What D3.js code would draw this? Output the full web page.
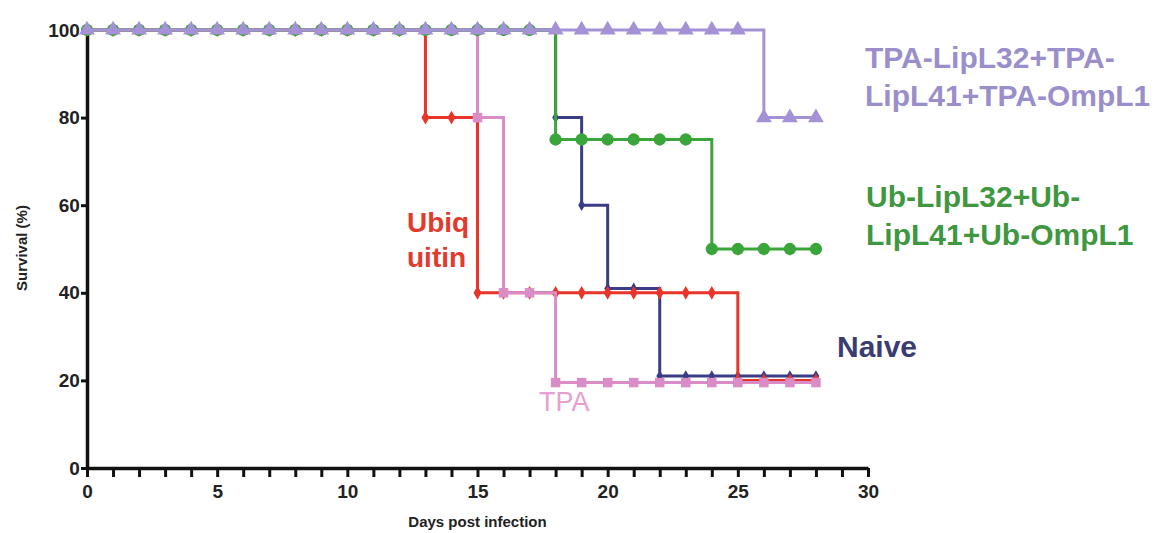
<!DOCTYPE html>
<html>
<head>
<meta charset="utf-8">
<script src="https://cdn.jsdelivr.net/npm/d3@7"></script>
<style>
    body { margin: 0; background: #fff; }
    svg { display: block; font-family: "Liberation Sans", Arial, sans-serif; }
</style>
</head>
<body>
<div id="chart"></div>
<script>
const days = [0, 1, 2, 3, 4, 5, 6, 7, 8, 9, 10, 11, 12, 13, 14, 15, 16, 17, 18, 19, 20, 21, 22, 23, 24, 25, 26, 27, 28];

const naive = [100, 100, 100, 100, 100, 100, 100, 100, 100, 100, 100, 100, 100, 100, 100, 100, 100, 100, 80, 60, 41, 41, 21, 21, 21, 21, 21, 21, 21];
const ubiquitin = [100, 100, 100, 100, 100, 100, 100, 100, 100, 100, 100, 100, 100, 80, 80, 40, 40, 40, 40, 40, 40, 40, 40, 40, 40, 20, 20, 20, 20];
const tpa = [100, 100, 100, 100, 100, 100, 100, 100, 100, 100, 100, 100, 100, 100, 100, 80, 40, 40, 19.5, 19.5, 19.5, 19.5, 19.5, 19.5, 19.5, 19.5, 19.5, 19.5, 19.5];
const ubMix = [100, 100, 100, 100, 100, 100, 100, 100, 100, 100, 100, 100, 100, 100, 100, 100, 100, 100, 75, 75, 75, 75, 75, 75, 50, 50, 50, 50, 50];
const tpaMix = [100, 100, 100, 100, 100, 100, 100, 100, 100, 100, 100, 100, 100, 100, 100, 100, 100, 100, 100, 100, 100, 100, 100, 100, 100, 100, 80, 80, 80];

const xTicks = [0, 5, 10, 15, 20, 25, 30];
const yTicks = [0, 20, 40, 60, 80, 100];

const series = [
    { values: naive, color: "#3b3c86", symbol: d3.symbolDiamond, size: 40 },
    { values: ubiquitin, color: "#e8352a", symbol: d3.symbolDiamond, size: 55 },
    { values: tpa, color: "#d98cc6", symbol: d3.symbolSquare, size: 90 },
    { values: ubMix, color: "#3aa53a", symbol: d3.symbolCircle, size: 120 },
    { values: tpaMix, color: "#a592d6", symbol: d3.symbolTriangle, size: 110 }
];

const width = 1167;
const height = 533;

const svg = d3.select("#chart")
    .append("svg")
    .attr("width", width)
    .attr("height", height);

const x = d3.scaleLinear()
    .domain([0, 30])
    .range([87, 868]);

const y = d3.scaleLinear()
    .domain([0, 100])
    .range([468, 30]);

// x axis: tick every day, label every 5
const xAxis = svg.append("g")
    .attr("transform", `translate(0,${y(0)})`)
    .call(d3.axisBottom(x)
        .tickValues(d3.range(0, 31))
        .tickSize(9)
        .tickSizeOuter(0)
        .tickFormat(d => xTicks.includes(d) ? d : ""));

const yAxis = svg.append("g")
    .attr("transform", `translate(${x(0)},0)`)
    .call(d3.axisLeft(y)
        .tickValues(yTicks)
        .tickSize(6)
        .tickSizeOuter(0));

[xAxis, yAxis].forEach(g => {
    g.select(".domain").attr("stroke", "#111").attr("stroke-width", 3.5);
    g.selectAll(".tick line").attr("stroke", "#111").attr("stroke-width", 3);
    g.selectAll(".tick text")
        .attr("fill", "#222")
        .style("font-size", "19px")
        .style("font-weight", "bold")
        .style("font-family", "'Liberation Sans', Arial, sans-serif");
});
xAxis.selectAll(".tick text").attr("dy", "0.95em");
yAxis.selectAll(".tick text").attr("dx", "0.1em");

svg.append("text")
    .attr("x", (x(0) + x(30)) / 2)
    .attr("y", 527)
    .attr("text-anchor", "middle")
    .attr("fill", "#222")
    .style("font-size", "15px")
    .style("font-weight", "bold")
    .text("Days post infection");

svg.append("text")
    .attr("transform", "translate(27,248) rotate(-90)")
    .attr("text-anchor", "middle")
    .attr("fill", "#222")
    .style("font-size", "15px")
    .style("font-weight", "bold")
    .text("Survival (%)");

const line = d3.line()
    .x((d, i) => x(days[i]))
    .y(d => y(d))
    .curve(d3.curveStepAfter);

series.forEach(s => {
    const g = svg.append("g");
    g.append("path")
        .datum(s.values)
        .attr("fill", "none")
        .attr("stroke", s.color)
        .attr("stroke-width", 3)
        .attr("d", line);
    g.selectAll("path.pt")
        .data(s.values)
        .enter()
        .append("path")
        .attr("class", "pt")
        .attr("transform", (d, i) => `translate(${x(days[i])},${y(d)})`)
        .attr("d", d3.symbol().type(s.symbol).size(s.size))
        .attr("fill", s.color);
});

const labels = [
    { lines: ["TPA-LipL32+TPA-", "LipL41+TPA-OmpL1"], x: 865, y: 68, color: "#9a8fca", size: 30, weight: "bold", gap: 38 },
    { lines: ["Ub-LipL32+Ub-", "LipL41+Ub-OmpL1"], x: 866, y: 207, color: "#3f973f", size: 30, weight: "bold", gap: 38 },
    { lines: ["Naive"], x: 837, y: 357, color: "#3b3c72", size: 30, weight: "bold", gap: 0 },
    { lines: ["Ubiq", "uitin"], x: 407, y: 232, color: "#e23a2c", size: 28, weight: "bold", gap: 35 },
    { lines: ["TPA"], x: 539, y: 411, color: "#e6a0d2", size: 27, weight: "normal", gap: 0 }
];

labels.forEach(l => {
    const t = svg.append("text")
        .attr("fill", l.color)
        .style("font-size", l.size + "px")
        .style("font-weight", l.weight);
    l.lines.forEach((txt, i) => {
        t.append("tspan")
            .attr("x", l.x)
            .attr("y", l.y + i * l.gap)
            .text(txt);
    });
});
</script>
</body>
</html>
